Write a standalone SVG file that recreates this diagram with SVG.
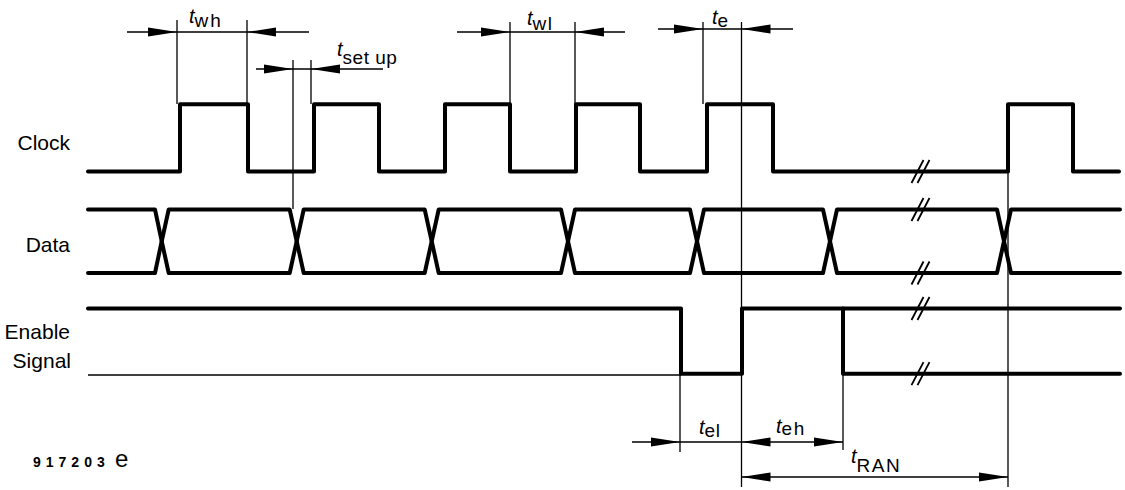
<svg xmlns="http://www.w3.org/2000/svg" xmlns:xlink="http://www.w3.org/1999/xlink" width="1125" height="490" viewBox="0 0 1125 490">
<style>
.w{fill:none;stroke:#000;stroke-width:4;stroke-linejoin:round;stroke-linecap:round}
.th{fill:none;stroke:#000;stroke-width:1.3}
.br{fill:none;stroke:#000;stroke-width:1.8}
.lbl{font-family:"Liberation Sans",Arial,sans-serif;font-size:21px;fill:#000;text-anchor:end}
.t{font-family:"Liberation Sans",Arial,sans-serif;font-size:20px;font-style:italic;fill:#000}
.s{font-family:"Liberation Sans",Arial,sans-serif;font-size:19px;fill:#000;letter-spacing:1.5px}
.id{font-family:"Liberation Sans",Arial,sans-serif;font-size:14px;font-weight:bold;fill:#000;letter-spacing:5px}
</style>
<defs>
<path id="ah" d="M0,0 L-29,-4.5 L-29,4.5 Z" fill="#000"/>
<path id="brk" d="M-9,11.5 L3,-11.5 M-3,11.5 L9,-11.5"/>
</defs>
<rect width="1125" height="490" fill="#fff"/>

<g id="labels">
<text class="lbl" x="70" y="150">Clock</text>
<text class="lbl" x="70" y="252">Data</text>
<text class="lbl" x="70" y="339">Enable</text>
<text class="lbl" x="71" y="368">Signal</text>
<text class="id" x="33" y="466.5">917203</text>
<text x="115" y="466.5" font-family="Liberation Sans,Arial,sans-serif" font-size="24" fill="#000">e</text>
</g>

<g id="clock">
<path class="w" d="M88,171.5 H180 V104.3 H248 V171.5 H314 V104.3 H379 V171.5 H445 V104.3 H510 V171.5 H576 V104.3 H640 V171.5 H707 V104.3 H773 V171.5 H1008 V104.3 H1073 V171.5 H1119"/>
</g>

<g id="data">
<path class="w" d="M88,209.5 H155 L161.7,241.2 L155,273 H88"/>
<path class="w" d="M161.7,241.2 L168.7,209.5 H289.7 L296.7,241.2 L289.7,273 H168.7 Z"/>
<path class="w" d="M296.7,241.2 L303.7,209.5 H424.7 L431.7,241.2 L424.7,273 H303.7 Z"/>
<path class="w" d="M431.7,241.2 L438.7,209.5 H561 L568,241.2 L561,273 H438.7 Z"/>
<path class="w" d="M568,241.2 L575,209.5 H690 L697,241.2 L690,273 H575 Z"/>
<path class="w" d="M697,241.2 L704,209.5 H823 L830,241.2 L823,273 H704 Z"/>
<path class="w" d="M830,241.2 L837,209.5 H997 L1004,241.2 L997,273 H837 Z"/>
<path class="w" d="M1120,209.5 H1011 L1004,241.2 L1011,273 H1120"/>
</g>

<g id="enable">
<path class="w" d="M88,308.5 H681 V373.7 H742 V308.5 H1120"/>
<path class="w" d="M843,308.5 V373.7 H1120"/>
<path class="th" d="M88,375 H681"/>
</g>

<g id="breaks" class="br">
<use xlink:href="#brk" x="920.5" y="171.5"/>
<use xlink:href="#brk" x="920.5" y="209.5"/>
<use xlink:href="#brk" x="920.5" y="273"/>
<use xlink:href="#brk" x="920.5" y="308.5"/>
<use xlink:href="#brk" x="920.5" y="373.7"/>
</g>

<g id="connectors">
<path class="th" d="M177,20 V104 M247,20 V104 M293,60 V209 M311,60 V104 M510,22 V104 M575,22 V104 M703,22 V104 M741.5,22 V487 M1008,171 V487 M680,375 V452 M843,373 V450"/>
<path class="th" d="M127,32 H309 M256,69 H383 M457,32 H625 M658,29 H793 M632,442 H843 M741.5,477 H1008"/>
<use xlink:href="#ah" x="177" y="32"/>
<use xlink:href="#ah" transform="translate(247,32) scale(-1,1)"/>
<use xlink:href="#ah" x="293" y="69"/>
<use xlink:href="#ah" transform="translate(311,69) scale(-1,1)"/>
<use xlink:href="#ah" x="510" y="32"/>
<use xlink:href="#ah" transform="translate(575,32) scale(-1,1)"/>
<use xlink:href="#ah" x="703" y="29"/>
<use xlink:href="#ah" transform="translate(741.5,29) scale(-1,1)"/>
<use xlink:href="#ah" x="680" y="442"/>
<use xlink:href="#ah" transform="translate(741.5,442) scale(-1,1)"/>
<use xlink:href="#ah" x="843" y="442"/>
<use xlink:href="#ah" transform="translate(741.5,477) scale(-1,1)"/>
<use xlink:href="#ah" x="1008" y="477"/>
</g>

<g id="dimension-labels">
<text x="189" y="23"><tspan class="t">t</tspan><tspan class="s" dy="4" style="letter-spacing:2px">wh</tspan></text>
<text x="337" y="56"><tspan class="t">t</tspan><tspan class="s" dy="7.5" style="letter-spacing:0.5px">set up</tspan></text>
<text x="527" y="25"><tspan class="t">t</tspan><tspan class="s" dy="4.5">wl</tspan></text>
<text x="712" y="24"><tspan class="t">t</tspan><tspan class="s" dy="3">e</tspan></text>
<text x="699" y="434"><tspan class="t">t</tspan><tspan class="s" dy="2.5" style="letter-spacing:0.5px">el</tspan></text>
<text x="776" y="433"><tspan class="t">t</tspan><tspan class="s" dy="2">eh</tspan></text>
<text x="851" y="463"><tspan class="t">t</tspan><tspan class="s" dy="9">RAN</tspan></text>
</g>
</svg>
